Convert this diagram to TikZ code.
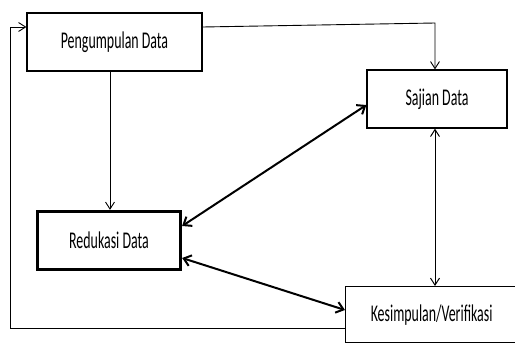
\documentclass[tikz,border=0pt]{standalone}
\usepackage{fontspec}
\usepackage{graphicx}
\setmainfont{Carlito}
\usetikzlibrary{arrows.meta}
% narrow, tall lettering used in all boxes
\newcommand\narrowtext[1]{\scalebox{0.58}[1]{#1}}
\begin{document}
\begin{tikzpicture}[x=1pt,y=-1pt,
  box/.style={draw,line width=1.3pt,minimum height=58pt,font=\fontsize{24}{26}\selectfont,inner sep=0pt},
  thin/.style={line width=0.9pt,-{Straight Barb[length=7pt,width=9pt]}},
  thick2/.style={line width=2pt,{Straight Barb[length=7pt,width=11pt]}-{Straight Barb[length=7pt,width=11pt]}},
  thin2/.style={line width=1pt,{Straight Barb[length=7pt,width=9pt]}-{Straight Barb[length=7pt,width=9pt]}}]
\useasboundingbox (0,0) rectangle (515,343);
\node[box,minimum width=175pt] (peng) at (114.5,42) {\narrowtext{Pengumpulan Data}};
\node[box,minimum width=140pt] (saj) at (437,99) {\narrowtext{Sajian Data}};
\node[box,line width=3.3pt,minimum width=143pt,minimum height=58pt] (red) at (109,240.5) {\narrowtext{Redukasi Data}};
\node[box,minimum width=172pt,minimum height=56pt,anchor=north west] (kes) at (345,286) {\narrowtext{Kesimpulan/Verifikasi}};
% flows
\draw[thin] (peng.south -| 110,0) -- (red.north -| 110,0);
\draw[thin] (peng.east |- 0,27) -- (435,23) -- (saj.north -| 435,0);
\draw[thin] (kes.west |- 0,328) -- (10,328) -- (10,27) -- (peng.west |- 0,27);
\draw[thin2] (saj.south -| 435,0) -- (kes.north -| 435,0);
\draw[thick2] (red.east |- 0,226) -- (saj.west |- 0,105);
\draw[thick2] (red.east |- 0,258) -- (kes.west |- 0,310);
\end{tikzpicture}
\end{document}
